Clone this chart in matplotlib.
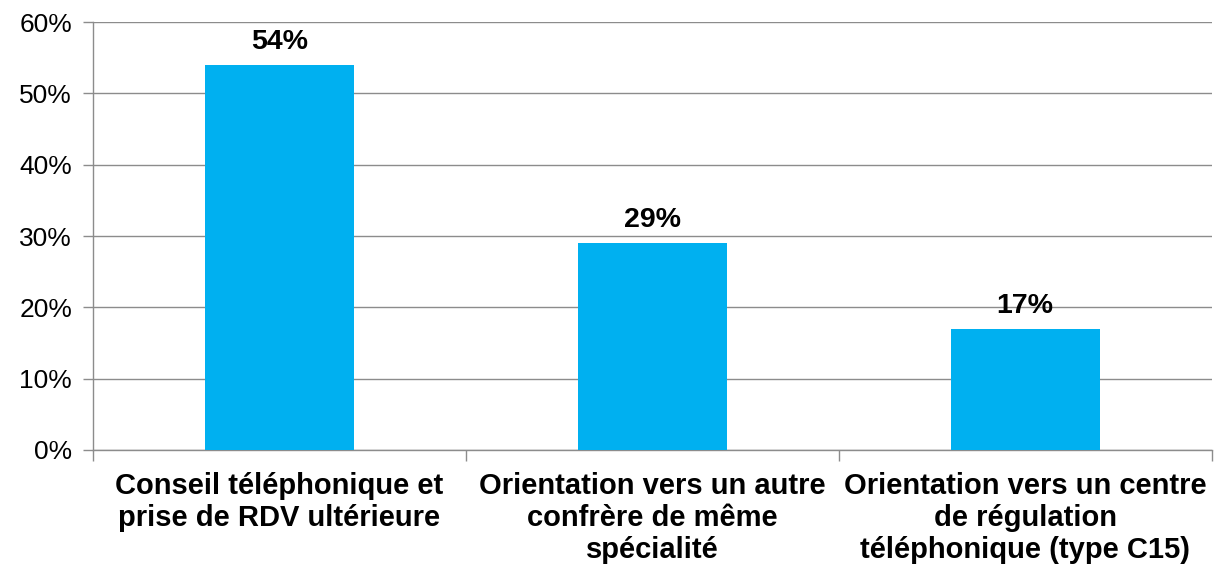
import matplotlib

matplotlib.use("Agg")
import matplotlib.pyplot as plt
from matplotlib.ticker import FuncFormatter, MultipleLocator

plt.rcParams["font.family"] = ["Liberation Sans", "DejaVu Sans"]

categories = [
    "Conseil téléphonique et\nprise de RDV ultérieure",
    "Orientation vers un autre\nconfrère de même\nspécialité",
    "Orientation vers un centre\nde régulation\ntéléphonique (type C15)",
]
values = [54, 29, 17]
value_labels = ["54%", "29%", "17%"]

fig = plt.figure(figsize=(12.14, 5.66), dpi=100)
ax = fig.add_axes([0.0766, 0.205, 0.9214, 0.756])

positions = list(range(len(categories)))
ax.bar(positions, values, width=0.4, color="#00B0F0", zorder=3)

for x, v, lab in zip(positions, values, value_labels):
    ax.text(x, v + 1.4, lab, ha="center", va="bottom", fontsize=20.5,
            fontweight="bold", color="black")

ax.set_xlim(-0.5, len(categories) - 0.5)
ax.set_ylim(0, 60)
ax.yaxis.set_major_locator(MultipleLocator(10))
ax.yaxis.set_major_formatter(FuncFormatter(lambda y, _: f"{y:.0f}%"))
ax.grid(axis="y", color="#8c8c8c", linewidth=1, zorder=0)

ax.set_xticks([p - 0.5 for p in positions] + [len(categories) - 0.5])
ax.set_xticklabels([])
ax.set_xticks(positions, minor=True)
ax.set_xticklabels(categories, minor=True, fontsize=21, fontweight="bold",
                   linespacing=1.17)
ax.tick_params(axis="x", which="minor", length=0, pad=16)
ax.tick_params(axis="x", which="major", length=8, color="#8c8c8c", width=1)
ax.tick_params(axis="y", length=7, color="#8c8c8c", width=1, labelsize=19, pad=8)

for side in ["top", "right"]:
    ax.spines[side].set_visible(False)
for side in ["left", "bottom"]:
    ax.spines[side].set_color("#8c8c8c")
    ax.spines[side].set_linewidth(1)

fig.savefig("out.png", dpi=100)
